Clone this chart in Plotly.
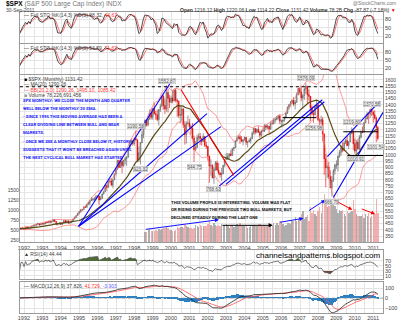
import numpy as np
import pandas as pd
import plotly.graph_objects as go

# ---------------- DATA : monthly $SPX, Jan 1992 - Sep 2011 ----------------
dec_1991_close = 417.1
closes = [
    408.8, 412.7, 403.7, 414.9, 415.4, 408.1, 424.2, 414.0, 417.8, 418.7, 431.4, 435.7,      # 1992
    438.8, 443.4, 451.7, 440.2, 450.2, 451.0, 448.1, 463.6, 458.9, 467.8, 461.8, 466.5,      # 1993
    481.6, 467.1, 445.8, 450.9, 456.5, 444.3, 458.3, 475.5, 462.7, 472.4, 453.7, 459.3,      # 1994
    470.4, 487.4, 500.7, 514.7, 533.4, 544.8, 562.1, 561.9, 584.4, 581.5, 605.4, 615.9,      # 1995
    636.0, 640.4, 645.5, 654.2, 669.1, 670.6, 639.9, 652.0, 687.3, 705.3, 757.0, 740.7,      # 1996
    786.2, 790.8, 757.1, 801.3, 848.3, 885.1, 954.3, 899.5, 947.3, 914.6, 955.4, 970.4,      # 1997
    980.3, 1049.3, 1101.8, 1111.8, 1090.8, 1133.8, 1120.7, 957.3, 1017.0, 1098.7, 1163.6, 1229.2,  # 1998
    1279.6, 1238.3, 1286.4, 1335.2, 1301.8, 1372.7, 1328.7, 1320.4, 1282.7, 1362.9, 1388.9, 1469.3,  # 1999
    1394.5, 1366.4, 1498.6, 1452.4, 1420.6, 1454.6, 1430.8, 1517.7, 1436.5, 1429.4, 1315.2, 1320.3,  # 2000
    1366.0, 1239.9, 1160.3, 1249.5, 1255.8, 1224.4, 1211.2, 1133.6, 1040.9, 1059.8, 1139.5, 1148.1,  # 2001
    1130.2, 1106.7, 1147.4, 1076.9, 1067.1, 989.8, 911.6, 916.1, 815.3, 885.8, 936.3, 879.8,  # 2002
    855.7, 841.2, 848.2, 916.9, 963.6, 974.5, 990.3, 1008.0, 996.0, 1050.7, 1058.2, 1111.9,   # 2003
    1131.1, 1144.9, 1126.2, 1107.3, 1120.7, 1140.8, 1101.7, 1104.2, 1114.6, 1130.2, 1173.8, 1211.9,  # 2004
    1181.3, 1203.6, 1180.6, 1156.9, 1191.5, 1191.3, 1234.2, 1220.3, 1228.8, 1207.0, 1249.5, 1248.3,  # 2005
    1280.1, 1280.7, 1294.9, 1310.6, 1270.1, 1270.2, 1276.7, 1303.8, 1335.9, 1377.9, 1400.6, 1418.3,  # 2006
    1438.2, 1406.8, 1420.9, 1482.4, 1530.6, 1503.4, 1455.3, 1474.0, 1526.8, 1549.4, 1481.1, 1468.4,  # 2007
    1378.6, 1330.6, 1322.7, 1385.6, 1400.4, 1280.0, 1267.4, 1282.8, 1166.4, 968.8, 896.2, 903.3,    # 2008
    825.9, 735.1, 797.9, 872.8, 919.1, 919.3, 987.5, 1020.6, 1057.1, 1036.2, 1095.6, 1115.1,   # 2009
    1073.9, 1104.5, 1169.4, 1186.7, 1089.4, 1030.7, 1101.6, 1049.3, 1141.2, 1183.3, 1180.6, 1257.6,  # 2010
    1286.1, 1327.2, 1325.8, 1363.6, 1345.2, 1320.6, 1292.3, 1218.9, 1131.4,                  # 2011
]
highs = [
    420.8, 418.3, 413.9, 416.3, 419.7, 416.0, 425.1, 425.1, 422.4, 419.6, 432.2, 441.3,
    442.5, 450.0, 456.9, 452.0, 453.5, 453.8, 449.8, 463.6, 463.1, 470.0, 468.6, 470.8,
    482.9, 482.8, 468.0, 452.1, 457.6, 462.1, 459.3, 477.1, 476.0, 473.8, 474.4, 464.4,
    472.8, 489.2, 507.2, 515.0, 535.0, 553.0, 563.8, 565.0, 586.0, 589.0, 608.0, 622.9,
    637.0, 664.2, 656.0, 659.0, 680.0, 674.0, 675.0, 671.0, 690.0, 714.0, 757.0, 762.0,
    794.0, 817.0, 814.0, 804.0, 851.0, 899.0, 961.0, 961.0, 960.0, 977.0, 961.0, 986.0,
    992.0, 1050.0, 1106.0, 1130.0, 1122.0, 1138.0, 1190.6, 1121.0, 1066.0, 1103.0, 1193.0, 1245.0,
    1280.0, 1282.0, 1316.0, 1362.0, 1368.0, 1373.0, 1421.0, 1351.0, 1361.0, 1367.0, 1410.0, 1473.0,
    1478.0, 1445.0, 1552.9, 1528.0, 1481.0, 1474.0, 1517.0, 1525.0, 1531.0, 1449.0, 1434.0, 1389.0,
    1383.0, 1376.0, 1268.0, 1269.0, 1316.0, 1287.0, 1240.0, 1255.0, 1155.0, 1110.0, 1163.0, 1173.0,
    1176.0, 1131.0, 1173.0, 1147.0, 1106.0, 1070.0, 994.0, 965.0, 925.0, 900.0, 951.0, 954.0,
    935.0, 864.0, 895.0, 919.0, 965.0, 1015.0, 1015.0, 1011.0, 1040.0, 1053.0, 1064.0, 1112.0,
    1155.0, 1158.0, 1163.0, 1150.0, 1123.0, 1146.0, 1141.0, 1109.0, 1131.0, 1142.0, 1188.0, 1217.0,
    1212.0, 1212.0, 1229.0, 1192.0, 1199.0, 1219.0, 1246.0, 1245.0, 1243.0, 1233.0, 1270.0, 1276.0,
    1295.0, 1297.0, 1311.0, 1318.0, 1326.0, 1284.0, 1280.0, 1306.0, 1340.0, 1389.0, 1407.0, 1431.0,
    1441.0, 1461.0, 1438.0, 1499.0, 1535.0, 1541.0, 1556.0, 1487.0, 1539.0, 1576.1, 1545.0, 1523.0,
    1471.0, 1396.0, 1359.0, 1397.0, 1441.0, 1405.0, 1293.0, 1314.0, 1303.0, 1171.0, 1007.0, 918.0,
    944.0, 877.0, 832.0, 888.0, 930.0, 956.0, 997.0, 1039.0, 1080.0, 1101.0, 1113.0, 1130.0,
    1151.0, 1112.0, 1180.0, 1219.8, 1206.0, 1131.0, 1120.0, 1130.0, 1158.0, 1197.0, 1227.0, 1263.0,
    1304.0, 1344.0, 1333.0, 1364.0, 1370.6, 1346.0, 1357.0, 1307.0, 1230.0,
]
lows = [
    405.0, 407.6, 401.0, 401.4, 410.4, 401.9, 403.4, 410.4, 410.4, 402.7, 417.9, 424.4,
    425.7, 426.9, 437.0, 432.7, 437.9, 438.7, 441.4, 445.4, 455.1, 456.9, 454.4, 459.9,
    464.3, 464.3, 436.2, 435.9, 441.7, 441.5, 443.5, 454.4, 460.5, 460.0, 448.9, 450.5,
    457.2, 469.3, 483.7, 496.7, 511.0, 525.0, 538.0, 553.0, 558.0, 576.0, 578.0, 599.0,
    597.0, 633.0, 627.0, 624.0, 637.0, 656.0, 600.0, 639.0, 648.0, 684.0, 703.0, 714.0,
    737.0, 773.0, 756.0, 733.0, 798.0, 836.0, 883.0, 896.0, 899.0, 855.0, 903.0, 925.0,
    912.0, 980.0, 1047.0, 1076.0, 1074.0, 1074.0, 1114.0, 939.0, 943.0, 923.3, 1094.0, 1133.0,
    1205.0, 1226.0, 1229.0, 1282.0, 1282.0, 1281.0, 1324.0, 1280.0, 1268.0, 1233.0, 1343.0, 1387.0,
    1361.0, 1325.0, 1346.0, 1339.0, 1374.0, 1416.0, 1413.0, 1429.0, 1419.0, 1305.0, 1295.0, 1254.0,
    1274.0, 1215.0, 1082.0, 1091.0, 1243.0, 1203.0, 1165.0, 1124.0, 944.8, 1031.0, 1054.0, 1114.0,
    1081.0, 1074.0, 1105.0, 1063.0, 1048.0, 953.0, 776.0, 833.0, 815.0, 768.6, 872.0, 870.0,
    840.0, 817.0, 789.0, 847.0, 902.0, 962.0, 960.0, 965.0, 990.0, 995.0, 1031.0, 1053.0,
    1105.0, 1124.0, 1088.0, 1107.0, 1076.0, 1113.0, 1079.0, 1060.0, 1101.0, 1090.0, 1127.0, 1163.0,
    1164.0, 1172.0, 1176.0, 1137.0, 1146.0, 1188.0, 1183.0, 1201.0, 1205.0, 1168.0, 1201.0, 1246.0,
    1245.0, 1254.0, 1277.0, 1282.0, 1245.0, 1219.0, 1224.0, 1264.0, 1291.0, 1327.0, 1360.0, 1385.0,
    1403.0, 1389.0, 1364.0, 1416.0, 1476.0, 1484.0, 1429.0, 1371.0, 1439.0, 1489.0, 1407.0, 1435.0,
    1270.0, 1316.0, 1257.0, 1312.0, 1373.0, 1272.0, 1200.0, 1248.0, 1107.0, 840.0, 741.0, 815.0,
    805.0, 741.0, 666.8, 783.0, 843.0, 888.0, 869.0, 978.0, 992.0, 1020.0, 1029.0, 1086.0,
    1071.0, 1045.0, 1105.0, 1166.0, 1040.0, 1011.0, 1010.9, 1040.0, 1039.0, 1131.0, 1173.0, 1180.0,
    1257.0, 1295.0, 1249.0, 1294.0, 1311.0, 1259.0, 1282.0, 1101.5, 1114.2,
]
# monthly volume (approx. billions of shares), Jan 1999 - Sep 2011
volume_start_year = 1999
volumes = [
    30, 31, 34, 37, 33, 32, 33, 34, 33, 38, 36, 37,
    42, 40, 45, 40, 36, 35, 33, 33, 35, 43, 40, 44,
    45, 40, 50, 46, 44, 42, 40, 38, 42, 50, 46, 44,
    50, 46, 48, 48, 46, 52, 62, 50, 48, 56, 50, 46,
    50, 46, 52, 48, 50, 52, 48, 40, 50, 50, 44, 46,
    52, 48, 54, 48, 46, 46, 48, 42, 44, 50, 50, 50,
    50, 48, 52, 52, 50, 48, 46, 46, 46, 54, 50, 48,
    56, 50, 56, 50, 60, 58, 52, 48, 50, 56, 56, 52,
    60, 62, 72, 60, 66, 70, 80, 88, 66, 72, 78, 62,
    100, 84, 92, 80, 76, 88, 100, 84, 118, 138, 110, 100,
    104, 110, 118, 108, 104, 96, 84, 92, 90, 92, 80, 76,
    88, 84, 86, 88, 120, 96, 80, 76, 74, 76, 80, 70,
    80, 76, 84, 70, 76, 86, 80, 124, 84,
]
years = list(range(1992, 2012))
inset_ticks = [250, 500, 750, 1000, 1250, 1500]

# author's drawings (decimal year, price)
blue_lines = [
    ((1995.43, 429), (2000.46, 1585)),
    ((1995.43, 429), (2002.41, 1330)),
    ((1995.43, 429), (2003.17, 1226)),
    ((2003.06, 748), (2008.69, 1441)),
    ((2003.44, 764), (2008.80, 1425)),
    ((2008.96, 987), (2011.82, 1430)),
    ((2009.29, 660), (2011.99, 1340)),
]
red_lines = [((2001.00, 1521), (2003.87, 836))]
black_lines = [((2006.53, 1298), (2008.37, 1298)),
               ((2009.83, 1185), (2011.72, 1185)),
               ((2010.05, 995), (2011.99, 995))]
dotted_level = 1545
# arrows in volume area (decimal year, volume units)
vol_arrows = [
    ((1999.00, 36), (2003.06, 64), '#1010ff'),
    ((2003.17, 48), (2005.99, 48), '#000000'),
    ((2006.31, 56), (2007.66, 68), '#1010ff'),
    ((2007.88, 87), (2008.85, 120), '#1010ff'),
    ((2009.29, 121), (2010.32, 92), '#ff0000'),
    ((2010.75, 96), (2011.56, 80), '#ff0000'),
]
# price labels: (decimal year, value, above?)
price_labels = [
    (2000.21, 1552.87, True), (2007.79, 1576.09, True), (2002.79, 768.63, False),
    (2009.21, 666.79, False), (2011.37, 1370.58, True), (2010.29, 1219.80, True),
    (2010.54, 1010.91, False), (2011.62, 1101.54, False), (2001.71, 944.75, False),
    (2008.21, 1256.98, False), (1998.54, 1190.58, True), (1998.79, 923.32, False),
]

# ---------------- indicators ----------------
C = pd.Series(closes, dtype=float)
Hh = pd.Series(highs, dtype=float)
Ll = pd.Series(lows, dtype=float)
O = pd.Series([dec_1991_close] + closes[:-1], dtype=float)
per = pd.period_range('1992-01', periods=len(C), freq='M')
t = np.array(per.year + (per.month - 0.5) / 12.0)

ma20 = C.rolling(20, min_periods=1).mean()
sd20 = C.rolling(20, min_periods=2).std(ddof=0).fillna(0)
bb_up, bb_lo = ma20 + 2 * sd20, ma20 - 2 * sd20

def full_sto(k, s, d):
    hh = Hh.rolling(k, min_periods=1).max()
    ll = Ll.rolling(k, min_periods=1).min()
    raw = 100 * (C - ll) / (hh - ll)
    K = raw.rolling(s, min_periods=1).mean()
    D = K.rolling(d, min_periods=1).mean()
    return K, D

k1, d1 = full_sto(5, 3, 3)
k2, d2 = full_sto(14, 3, 3)

delta = C.diff().fillna(0)
ag = delta.clip(lower=0).ewm(alpha=1 / 14, adjust=False).mean()
al = (-delta.clip(upper=0)).ewm(alpha=1 / 14, adjust=False).mean()
rsi = 100 - 100 / (1 + ag / al.replace(0, np.nan))
rsi = rsi.fillna(50)

macd = C.ewm(span=12, adjust=False).mean() - C.ewm(span=26, adjust=False).mean()
signal = macd.ewm(span=9, adjust=False).mean()
hist = macd - signal

vt = t[(volume_start_year - 1992) * 12:]
vchg = (C.diff().fillna(0).values)[(volume_start_year - 1992) * 12:]
vcol = ['rgba(160,160,160,0.85)' if d >= 0 else 'rgba(235,150,150,0.75)' for d in vchg]

# ---------------- layout helpers ----------------
W, Hpx = 400, 323
F = "Liberation Sans, Arial, sans-serif"
NARROW = "Roboto, Liberation Sans, sans-serif"
def ypx(p):
    return 1 - p / Hpx
XR = [1992.233, 2011.995]
XD = [18 / W, 383 / W]
MAIN_TOP, MAIN_BOT = 75, 243
half_years = [y + h for y in range(1992, 2012) for h in (0.0, 0.5)]

fig = go.Figure()

# --- main panel: volume (base) + price (overlay)
fig.add_trace(go.Bar(x=vt, y=volumes, marker=dict(color=vcol, line=dict(width=0)),
                     width=0.075, xaxis='x', yaxis='y', showlegend=False, hoverinfo='skip'))
fig.add_trace(go.Scatter(x=t, y=bb_up, mode='lines', line=dict(color='#ff7070', width=0.7),
                         xaxis='x', yaxis='y2', showlegend=False, hoverinfo='skip'))
fig.add_trace(go.Scatter(x=t, y=bb_lo, mode='lines', line=dict(color='#ff7070', width=0.7),
                         xaxis='x', yaxis='y2', showlegend=False, hoverinfo='skip'))
fig.add_trace(go.Scatter(x=t, y=ma20, mode='lines', line=dict(color='#5a4a14', width=1.2),
                         xaxis='x', yaxis='y2', showlegend=False, hoverinfo='skip'))
fig.add_trace(go.Candlestick(x=t, open=O, high=Hh, low=Ll, close=C, xaxis='x', yaxis='y2',
                             increasing=dict(line=dict(color='#555555', width=0.6), fillcolor='#cfcfcf'),
                             decreasing=dict(line=dict(color='#e00000', width=0.6), fillcolor='#e00000'),
                             whiskerwidth=0, showlegend=False, hoverinfo='skip'))
for (a, b) in blue_lines:
    fig.add_trace(go.Scatter(x=[a[0], b[0]], y=[a[1], b[1]], mode='lines',
                             line=dict(color='#0000ff', width=1.1), xaxis='x', yaxis='y2',
                             showlegend=False, hoverinfo='skip'))
for (a, b) in red_lines:
    fig.add_trace(go.Scatter(x=[a[0], b[0]], y=[a[1], b[1]], mode='lines',
                             line=dict(color='#ff0000', width=1.1), xaxis='x', yaxis='y2',
                             showlegend=False, hoverinfo='skip'))
for (a, b) in black_lines:
    fig.add_trace(go.Scatter(x=[a[0], b[0]], y=[a[1], b[1]], mode='lines',
                             line=dict(color='#000000', width=1.0), xaxis='x', yaxis='y2',
                             showlegend=False, hoverinfo='skip'))
# inset axis (left labels of the pasted 1992-1998 chart)
fig.add_trace(go.Scatter(x=[None], y=[None], xaxis='x', yaxis='y8', showlegend=False, hoverinfo='skip'))

# --- stochastic panels
for (K, D, xa, ya) in [(k1, d1, 'x2', 'y3'), (k2, d2, 'x3', 'y4')]:
    fig.add_trace(go.Scatter(x=t, y=D, mode='lines', line=dict(color='#ff5050', width=0.8),
                             xaxis=xa, yaxis=ya, showlegend=False, hoverinfo='skip'))
    fig.add_trace(go.Scatter(x=t, y=K, mode='lines', line=dict(color='#222222', width=0.8),
                             xaxis=xa, yaxis=ya, showlegend=False, hoverinfo='skip'))

# --- RSI panel
fig.add_trace(go.Scatter(x=t, y=np.full(len(t), 70.0), mode='lines', line=dict(width=0, color='rgba(0,0,0,0)'),
                         xaxis='x4', yaxis='y5', showlegend=False, hoverinfo='skip'))
fig.add_trace(go.Scatter(x=t, y=np.maximum(rsi, 70), mode='lines', line=dict(width=0, color='rgba(0,0,0,0)'),
                         fill='tonexty', fillcolor='#4f6b3a', xaxis='x4', yaxis='y5', showlegend=False, hoverinfo='skip'))
fig.add_trace(go.Scatter(x=t, y=np.full(len(t), 30.0), mode='lines', line=dict(width=0, color='rgba(0,0,0,0)'),
                         xaxis='x4', yaxis='y5', showlegend=False, hoverinfo='skip'))
fig.add_trace(go.Scatter(x=t, y=np.minimum(rsi, 30), mode='lines', line=dict(width=0, color='rgba(0,0,0,0)'),
                         fill='tonexty', fillcolor='#6b4a3a', xaxis='x4', yaxis='y5', showlegend=False, hoverinfo='skip'))
fig.add_trace(go.Scatter(x=t, y=rsi, mode='lines', line=dict(color='#555555', width=0.8),
                         xaxis='x4', yaxis='y5', showlegend=False, hoverinfo='skip'))

# --- MACD panel
fig.add_trace(go.Bar(x=t, y=hist, marker=dict(color='#2a80c4', line=dict(width=0)), width=0.09,
                     xaxis='x5', yaxis='y6', showlegend=False, hoverinfo='skip'))
fig.add_trace(go.Scatter(x=t, y=signal, mode='lines', line=dict(color='#ff5050', width=0.8),
                         xaxis='x5', yaxis='y6', showlegend=False, hoverinfo='skip'))
fig.add_trace(go.Scatter(x=t, y=macd, mode='lines', line=dict(color='#222222', width=0.8),
                         xaxis='x5', yaxis='y6', showlegend=False, hoverinfo='skip'))

# ---------------- axes ----------------
tickfont = dict(family=F, size=5.5, color='#444444')
def xax(anchor, labels):
    return dict(domain=XD, range=XR, anchor=anchor, showgrid=False, zeroline=False,
                tickvals=[y + 0.45 for y in years], ticktext=[str(y) for y in years],
                showticklabels=labels, ticks='', tickfont=tickfont,
                minor=dict(tickvals=half_years, showgrid=True, gridcolor='#e4e4e4', gridwidth=0.6),
                showline=True, mirror=True, linecolor='#9a9a9a', linewidth=0.6,
                rangeslider=dict(visible=False), fixedrange=True)

def yax(top, bot, rng, tv, side='right', grid=True):
    return dict(domain=[ypx(bot), ypx(top)], range=rng, side=side, tickvals=tv, ticks='',
                tickfont=tickfont, showgrid=grid, gridcolor='#e4e4e4', gridwidth=0.6, zeroline=False,
                showline=True, mirror=True, linecolor='#9a9a9a', linewidth=0.6, fixedrange=True)

price_ticks = list(range(300, 1650, 50))
fig.update_layout(
    width=W, height=Hpx, margin=dict(l=0, r=0, t=0, b=0),
    paper_bgcolor='white', plot_bgcolor='white', showlegend=False, bargap=0,
    xaxis=xax('y', True),
    yaxis=dict(domain=[ypx(MAIN_BOT), ypx(MAIN_TOP)], range=[0, 475], visible=False, fixedrange=True),
    yaxis2=dict(overlaying='y', range=[301.4, 1640.7], side='right', tickvals=price_ticks,
                ticks='', tickfont=dict(family=F, size=5, color='#444444'), showgrid=True,
                gridcolor='#e6e6e6', gridwidth=0.6, zeroline=False, showline=True, mirror=True,
                linecolor='#9a9a9a', linewidth=0.6, anchor='x', fixedrange=True),
    yaxis8=dict(overlaying='y', anchor='x', side='left', range=[200, 4400], showgrid=False,
                zeroline=False, tickvals=inset_ticks, ticks='',
                tickfont=dict(family=F, size=5, color='#444444'), showline=False, fixedrange=True),
    xaxis2=xax('y3', False), yaxis3=yax(12, 43, [-2, 105], [20, 50, 80]),
    xaxis3=xax('y4', False), yaxis4=yax(44.5, 74, [0, 110], [20, 50, 80]),
    xaxis4=xax('y5', False), yaxis5=yax(251, 280, [-3, 113], [10, 30, 50, 70]),
    xaxis5=xax('y6', True), yaxis6=yax(283, 314, [-150, 160], [-100, 0, 100]),
)

# dotted resistance line
fig.add_shape(type='line', xref='x domain', yref='y2', x0=0, x1=1, y0=dotted_level, y1=dotted_level,
              line=dict(color='#000000', width=1, dash='dot'))
fig.add_shape(type='line', xref='x5 domain', yref='y6', x0=0, x1=1, y0=0, y1=0,
              line=dict(color='#888888', width=0.6, dash='dot'))

# arrows in volume area
for (a, b, col) in vol_arrows:
    fig.add_annotation(x=b[0], y=b[1], ax=a[0], ay=a[1], xref='x', yref='y', axref='x', ayref='y',
                       showarrow=True, arrowhead=2, arrowsize=0.8, arrowwidth=1, arrowcolor=col, text='')

# price labels
for (yr, v, up) in price_labels:
    fig.add_annotation(x=yr, y=v, xref='x', yref='y2', text=f'{v:.2f}', showarrow=False,
                       yshift=5 if up else -5, font=dict(family=F, size=4.6, color='#555555'),
                       bgcolor='rgba(238,238,238,0.9)', bordercolor='#b0b0b0', borderwidth=0.5, borderpad=0)

def txt(x, y, s, size=5.5, color='#000', anchor='left', fam=F):
    fig.add_annotation(xref='paper', yref='paper', x=x / W, y=ypx(y), text=s, showarrow=False,
                       xanchor=anchor, yanchor='middle', align='left',
                       font=dict(family=fam, size=size, color=color))

# header
txt(2, 4, '<b>$SPX</b> <span style="color:#777">(S&amp;P 500 Large Cap Index) INDX</span>', size=6.5)
txt(398, 3.5, '@StockCharts.com', size=5, color='#777', anchor='right')
txt(2, 10.5, '30-Sep-2011', size=5, color='#444')
txt(398, 10.5, '<b>Open</b> 1216.12 <b>High</b> 1220.06 <b>Low</b> 1114.22 <b>Close</b> 1131.42 '
                '<b>Volume</b> 78.2B <b>Chg</b> -87.87 (-7.18%) <span style="color:#d00">&#9660;</span>',
    size=5, color='#333', anchor='right')
# panel legends
txt(20, 15, '<span style="color:#222">&#8212;</span> Full STO %K(14,3) %D(3) 38.32, <span style="color:#ff3030">44.67</span>', size=5, color='#444')
txt(20, 48, '<span style="color:#222">&#8212;</span> Full STO %K(14,3) %D(3) 54.59, <span style="color:#ff3030">71.67</span>', size=5, color='#444')
txt(20, 79, '<span style="color:#000">&#9632;</span> $SPX (Monthly) 1131.42', size=5, color='#444')
txt(20, 84.5, '<span style="color:#5a4a14">&#8212;</span> MA(20) 1290.26', size=5, color='#444')
txt(20, 90.5, '<span style="color:#ff4040">&#8212; BB(20,2.0) 1290.26, 1495.10, 1085.42</span>', size=5, color='#ff4040')
txt(20, 95.5, '<span style="color:#999">&#9632;</span> Volume 78,226,691,456', size=5, color='#444')
txt(20, 255, '<span style="color:#333">&#9650;</span> RSI(14) 44.44', size=5, color='#444')
txt(20, 287, '<span style="color:#222">&#8212;</span> MACD(12,26,9) 37.826, <span style="color:#ff3030">41.729</span>, '
               '<span style="color:#6060ff">-3.903</span>', size=5, color='#444')

# author comments
blue_text = ['SPX MONTHLY: WE CLOSE THE MONTH AND QUARTER',
             'WELL BELOW THE MONTHLY 20 SMA.',
             '- SINCE 1995 THIS MOVING AVERAGE HAS BEEN A',
             'CLEAR DIVIDING LINE BETWEEN BULL AND BEAR',
             'MARKETS.',
             '- ONCE WE SEE A MONTHLY CLOSE BELOW IT, HISTORY',
             'SUGGESTS THAT IT WON\'T BE BREACHED AGAIN UNTIL',
             'THE NEXT CYCLICAL BULL MARKET HAS STARTED']
blue_y = [100.5, 108.5, 117, 125, 133, 142, 150, 158]
for s, yy in zip(blue_text, blue_y):
    txt(19, yy, '<b>' + s + '</b>', size=4.3, color='#1a1aff', fam=NARROW)
black_text = ['THIS VOLUME PROFILE IS INTERESTING. VOLUME WAS FLAT',
              'OR RISING DURING THE PREVIOUS TWO BULL MARKETS, BUT',
              'DECLINED STEADILY DURING THE LAST ONE']
for s, yy in zip(black_text, [203, 210.5, 218]):
    txt(168, yy, '<b>' + s + '</b>', size=4.3, color='#111', fam=NARROW)
txt(382, 256.5, 'channelsandpatterns.blogspot.com', size=8, color='#000', anchor='right')

fig.write_html("out.html")
